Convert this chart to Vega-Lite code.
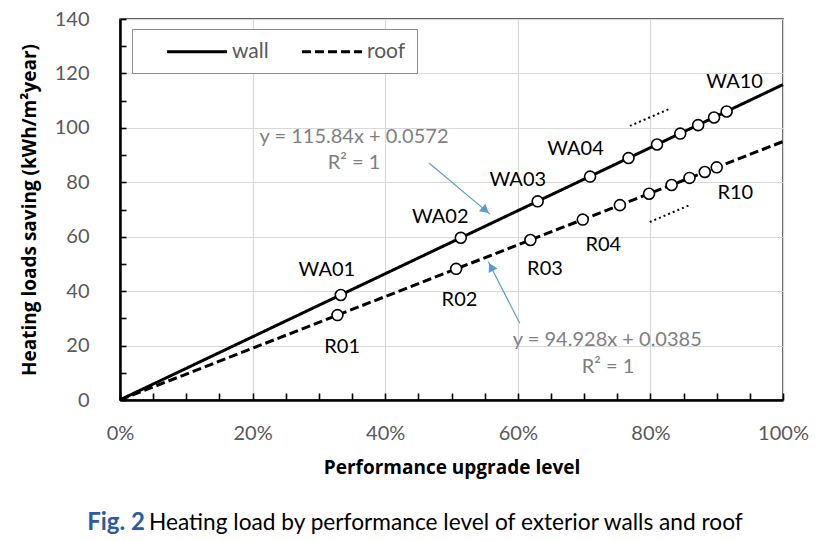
{
  "$schema": "https://vega.github.io/schema/vega-lite/v6.json",
  "width": 663,
  "height": 381,
  "autosize": "none",
  "padding": {"left": 120, "top": 19, "right": 45, "bottom": 141},
  "background": "white",
  "config": {
    "view": {"stroke": "#333333", "strokeWidth": 1.5},
    "font": "Lato"
  },
  "encoding": {
    "x": {
      "field": "x", "type": "quantitative",
      "scale": {"domain": [0, 1], "nice": false, "zero": false},
      "axis": {
        "values": [0,0.05,0.1,0.15,0.2,0.25,0.3,0.35,0.4,0.45,0.5,0.55,0.6,0.65,0.7,0.75,0.8,0.85,0.9,0.95,1],
        "format": ".0%",
        "labelExpr": "abs(datum.value*5-round(datum.value*5))<0.001 ? datum.label : ''",
        "gridOpacity": {"condition": {"test": "abs(datum.value*5-round(datum.value*5))<0.001", "value": 1}, "value": 0},
        "gridColor": "#d9d9d9", "gridWidth": 1.2,
        "ticks": true, "tickSize": -7, "tickColor": "black", "tickWidth": 1.6, "tickOpacity": 1,
        "domainColor": "black", "domainWidth": 2.5,
        "labelFont": "Lato", "labelFontSize": 20, "labelColor": "#595959",
        "labelPadding": 30, "labelFlush": false, "labelOverlap": false,
        "title": "Performance upgrade level",
        "titleFont": "Open Sans", "titleFontSize": 19, "titleFontWeight": "bold", "titleColor": "black",
        "titlePadding": 15
      }
    },
    "y": {
      "field": "y", "type": "quantitative",
      "scale": {"domain": [0, 140], "nice": false, "zero": false},
      "axis": {
        "values": [0,10,20,30,40,50,60,70,80,90,100,110,120,130,140],
        "labelExpr": "datum.value % 20 == 0 ? datum.label : ''",
        "gridOpacity": {"condition": {"test": "datum.value % 20 == 0", "value": 1}, "value": 0},
        "gridColor": "#d9d9d9", "gridWidth": 1.2,
        "ticks": true, "tickSize": -6, "tickColor": "black", "tickWidth": 1.6, "tickOpacity": 1,
        "domainColor": "black", "domainWidth": 2.5,
        "labelFont": "Lato", "labelFontSize": 20, "labelColor": "#595959",
        "labelPadding": 37, "labelOverlap": false, "labelFlush": false,
        "title": "Heating loads saving (kWh/m²year)",
        "titleFont": "Open Sans", "titleFontSize": 19, "titleFontWeight": "bold", "titleColor": "black",
        "titlePadding": 15
      }
    }
  },
  "layer": [
    {
      "data": {"values": [
        {"series": "wall", "x": 0, "y": 0.06},
        {"series": "wall", "x": 1, "y": 115.9},
        {"series": "roof", "x": 0, "y": 0.04},
        {"series": "roof", "x": 1, "y": 94.97}
      ]},
      "mark": {"type": "line", "color": "black", "strokeWidth": 3},
      "encoding": {
        "strokeDash": {
          "field": "series", "type": "nominal",
          "scale": {"domain": ["wall", "roof"], "range": [[1, 0], [9, 4]]},
          "legend": {
            "orient": "none", "legendX": 12, "legendY": 10, "direction": "horizontal",
            "title": null, "symbolType": "M-3,0H3", "symbolSize": 400, "symbolStrokeWidth": 3,
            "symbolStrokeColor": "black", "symbolFillColor": "transparent",
            "labelFont": "Lato", "labelFontSize": 21, "labelColor": "#595959", "labelOffset": 23.5,
            "strokeColor": "#8c8c8c", "fillColor": "white", "padding": 11,
            "symbolOffset": 42.5, "columnPadding": 9
          }
        }
      }
    },
    {
      "data": {"values": [
        {"series": "wall", "x": 0.333, "y": 38.6},
        {"series": "wall", "x": 0.514, "y": 59.6},
        {"series": "wall", "x": 0.630, "y": 73.0},
        {"series": "wall", "x": 0.709, "y": 82.1},
        {"series": "wall", "x": 0.767, "y": 88.9},
        {"series": "wall", "x": 0.810, "y": 93.9},
        {"series": "wall", "x": 0.845, "y": 97.9},
        {"series": "wall", "x": 0.872, "y": 101.0},
        {"series": "wall", "x": 0.896, "y": 103.8},
        {"series": "wall", "x": 0.915, "y": 106.0},
        {"series": "roof", "x": 0.328, "y": 31.2},
        {"series": "roof", "x": 0.507, "y": 48.2},
        {"series": "roof", "x": 0.619, "y": 58.8},
        {"series": "roof", "x": 0.698, "y": 66.3},
        {"series": "roof", "x": 0.754, "y": 71.6},
        {"series": "roof", "x": 0.798, "y": 75.8},
        {"series": "roof", "x": 0.832, "y": 79.0},
        {"series": "roof", "x": 0.859, "y": 81.6},
        {"series": "roof", "x": 0.882, "y": 83.8},
        {"series": "roof", "x": 0.900, "y": 85.5}
      ]},
      "mark": {"type": "point", "shape": "circle", "filled": true, "fill": "white", "stroke": "black", "strokeWidth": 1.6, "size": 120, "opacity": 1}
    },
    {
      "data": {"values": [
        {"label": "WA01", "x": 0.312, "y": 47.8},
        {"label": "WA02", "x": 0.483, "y": 67.3},
        {"label": "WA03", "x": 0.600, "y": 80.8},
        {"label": "WA04", "x": 0.687, "y": 92.1},
        {"label": "WA10", "x": 0.927, "y": 116.7},
        {"label": "R01", "x": 0.335, "y": 19.5},
        {"label": "R02", "x": 0.512, "y": 36.7},
        {"label": "R03", "x": 0.641, "y": 48.0},
        {"label": "R04", "x": 0.729, "y": 56.8},
        {"label": "R10", "x": 0.928, "y": 76.2}
      ]},
      "mark": {"type": "text", "font": "Lato", "fontSize": 20, "color": "black", "align": "center", "baseline": "middle"},
      "encoding": {"text": {"field": "label"}}
    },
    {
      "data": {"values": [
        {"label": "y = 115.84x + 0.0572", "x": 0.353, "y": 96.6},
        {"label": "R² = 1", "x": 0.353, "y": 87.1},
        {"label": "y = 94.928x + 0.0385", "x": 0.735, "y": 22.0},
        {"label": "R² = 1", "x": 0.736, "y": 12.1}
      ]},
      "mark": {"type": "text", "font": "Lato", "fontSize": 20, "color": "#7f7f7f", "align": "center", "baseline": "middle"},
      "encoding": {"text": {"field": "label"}}
    },
    {
      "data": {"values": [
        {"x": 0.466, "y": 87.1, "x2": 0.558, "y2": 68.3},
        {"x": 0.603, "y": 28.2, "x2": 0.5555, "y2": 50.8}
      ]},
      "mark": {"type": "rule", "color": "#5B9BD5", "strokeWidth": 1.2},
      "encoding": {"x2": {"field": "x2"}, "y2": {"field": "y2"}}
    },
    {
      "data": {"values": [{"x": 0.5512, "y": 69.7}]},
      "mark": {"type": "point", "shape": "triangle-right", "filled": true, "color": "#5B9BD5", "size": 100, "angle": 40, "opacity": 1}
    },
    {
      "data": {"values": [{"x": 0.5597, "y": 48.9}]},
      "mark": {"type": "point", "shape": "triangle-right", "filled": true, "color": "#5B9BD5", "size": 100, "angle": 242.5, "opacity": 1}
    },
    {
      "data": {"values": [
        {"x": 0.769, "y": 100.7, "x2": 0.828, "y2": 106.9},
        {"x": 0.799, "y": 65.4, "x2": 0.860, "y2": 71.7}
      ]},
      "mark": {"type": "rule", "color": "black", "strokeWidth": 2, "strokeDash": [2, 3]},
      "encoding": {"x2": {"field": "x2"}, "y2": {"field": "y2"}}
    },
    {
      "data": {"values": [{"label": "Fig. 2", "x": 0.0377, "y": -45.2}]},
      "mark": {"type": "text", "font": "Lato", "fontSize": 24, "fontWeight": "bold", "color": "#2B5C9E", "align": "right", "baseline": "middle"},
      "encoding": {"text": {"field": "label"}}
    },
    {
      "data": {"values": [{"label": "Heating load by performance level of exterior walls and roof", "x": 0.0437, "y": -45.2}]},
      "mark": {"type": "text", "font": "Lato", "fontSize": 22.7, "color": "black", "align": "left", "baseline": "middle"},
      "encoding": {"text": {"field": "label"}}
    }
  ]
}
